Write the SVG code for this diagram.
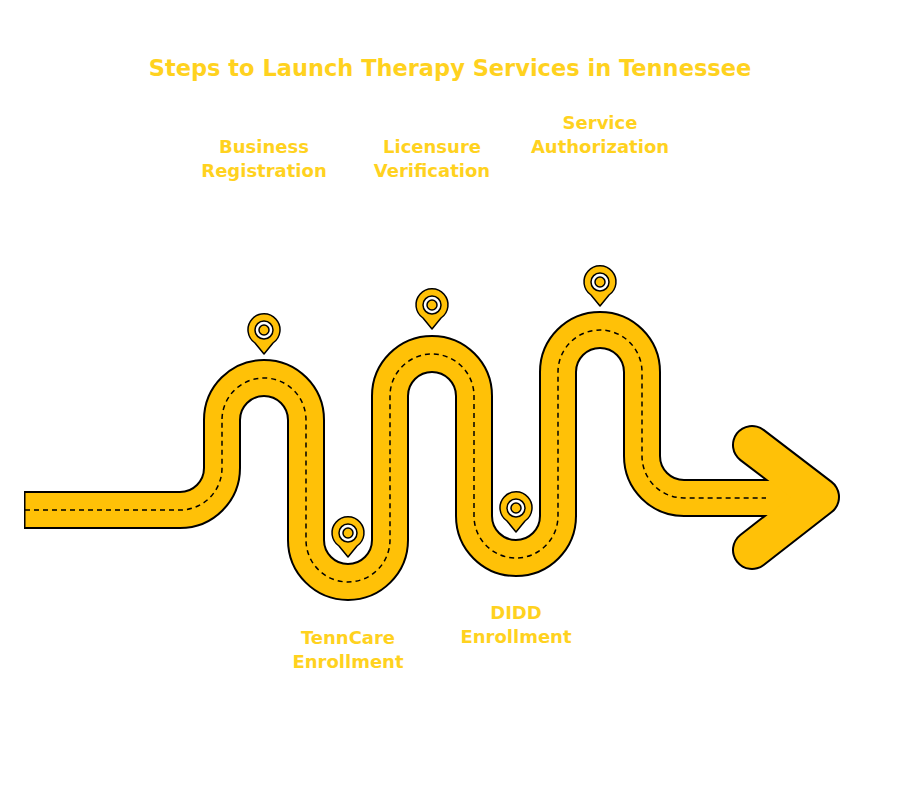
<svg xmlns="http://www.w3.org/2000/svg" width="900" height="804" viewBox="0 0 900 804">
<style>
.t{font-family:"DejaVu Sans","Liberation Sans",sans-serif;font-weight:bold;fill:#FFD21F;text-anchor:middle}
.l{font-size:18px}
.pin{fill:#FFC107;stroke:#000;stroke-width:1.5}
</style>
<defs>
<g id="pin">
<path class="pin" d="M0 24 L-9 13 A16 16 0 1 1 9 13 Z" stroke-linejoin="round"/>
<circle r="9" fill="#fff" stroke="#000" stroke-width="1.5"/>
<circle r="5" class="pin"/>
</g>
<path id="rd" d="M24 510 H180 A42 42 0 0 0 222 468 V420 A42 42 0 0 1 306 420 V540 A42 42 0 0 0 390 540 V396 A42 42 0 0 1 474 396 V516 A42 42 0 0 0 558 516 V372 A42 42 0 0 1 642 372 V456 A42 42 0 0 0 684 498 H800" fill="none"/>
<polyline id="ah" points="752,445 820,497 752,550" fill="none" stroke-linecap="round" stroke-linejoin="round"/>
</defs>
<rect width="900" height="804" fill="#fff"/>
<text class="t" x="450" y="76" font-size="22.5">Steps to Launch Therapy Services in Tennessee</text>
<g id="connectors">
<use href="#ah" stroke="#000" stroke-width="40"/>
<use href="#rd" stroke="#000" stroke-width="38"/>
<use href="#rd" stroke="#FFC107" stroke-width="34"/>
<line x1="24.75" y1="491" x2="24.75" y2="529" stroke="#000" stroke-width="1.5"/>
<use href="#ah" stroke="#FFC107" stroke-width="36"/>
<path d="M25 510 H180 A42 42 0 0 0 222 468 V420 A42 42 0 0 1 306 420 V540 A42 42 0 0 0 390 540 V396 A42 42 0 0 1 474 396 V516 A42 42 0 0 0 558 516 V372 A42 42 0 0 1 642 372 V456 A42 42 0 0 0 684 498 H766" fill="none" stroke="#000" stroke-width="1.5" stroke-dasharray="5 4"/>
</g>
<g id="n1"><use href="#pin" x="264" y="330"/><text class="t l" x="264" y="153">Business</text><text class="t l" x="264" y="177">Registration</text></g>
<g id="n2"><use href="#pin" x="348" y="533"/><text class="t l" x="348" y="644">TennCare</text><text class="t l" x="348" y="668">Enrollment</text></g>
<g id="n3"><use href="#pin" x="432" y="305"/><text class="t l" x="432" y="153">Licensure</text><text class="t l" x="432" y="177">Verification</text></g>
<g id="n4"><use href="#pin" x="516" y="508"/><text class="t l" x="516" y="619">DIDD</text><text class="t l" x="516" y="643">Enrollment</text></g>
<g id="n5"><use href="#pin" x="600" y="282"/><text class="t l" x="600" y="129">Service</text><text class="t l" x="600" y="153">Authorization</text></g>
</svg>
